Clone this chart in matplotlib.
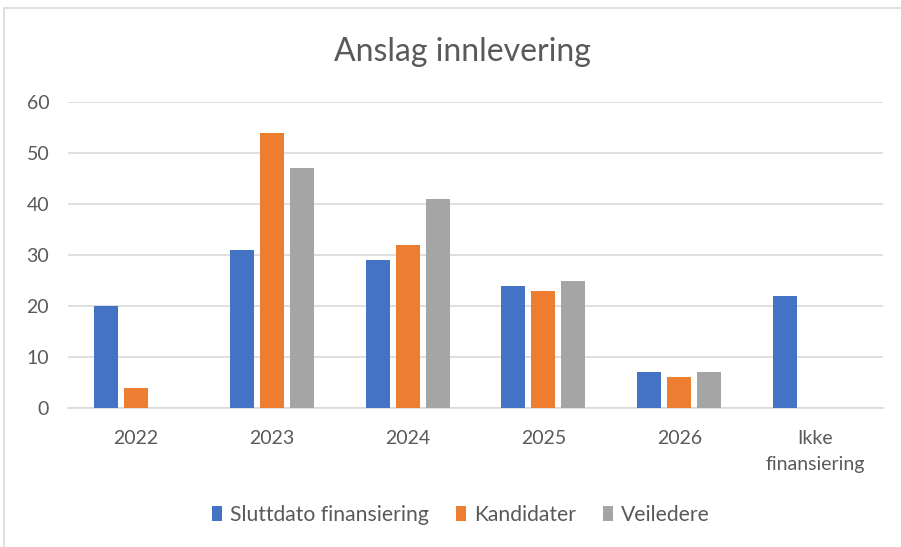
import numpy as np
import matplotlib
matplotlib.use("Agg")
import matplotlib.pyplot as plt
from matplotlib.patches import Rectangle

plt.rcParams['font.family'] = ['Lato', 'DejaVu Sans']

categories = ["2022", "2023", "2024", "2025", "2026", "Ikke\nfinansiering"]
series_names = ["Sluttdato finansiering", "Kandidater", "Veiledere"]
sluttdato = [20, 31, 29, 24, 7, 22]
kandidater = [4, 54, 32, 23, 6, np.nan]
veiledere = [np.nan, 47, 41, 25, 7, np.nan]
colors = ["#4472C4", "#ED7D31", "#A5A5A5"]
yticks = [0, 10, 20, 30, 40, 50, 60]

W, H = 901, 547
fig = plt.figure(figsize=(W / 100, H / 100), dpi=100)
fig.patch.set_facecolor("white")

# chart border
fig.patches.append(Rectangle((4 / W, -0.05), 1.0, (H - 8) / H + 0.05,
                             transform=fig.transFigure, fill=False,
                             edgecolor="#D9D9D9", linewidth=1.2))

ax = fig.add_axes([68 / W, (H - 408) / H, 815 / W, 306 / H])
x = np.arange(len(categories))
bw = 0.177
step = 0.221
for i, (vals, c, name) in enumerate(zip([sluttdato, kandidater, veiledere], colors, series_names)):
    ax.bar(x + (i - 1) * step, vals, width=bw, color=c, label=name, zorder=3)

ax.set_xlim(-0.5, len(categories) - 0.5)
ax.set_ylim(0, 60)
ax.set_yticks(yticks)
ax.set_xticks(x)
ax.set_xticklabels(categories, linespacing=1.65)
ax.yaxis.grid(True, color="#D9D9D9", linewidth=1.2, zorder=0)
for s in ["top", "right", "left"]:
    ax.spines[s].set_visible(False)
ax.spines["bottom"].set_color("#D9D9D9")
ax.spines["bottom"].set_linewidth(1.2)
ax.tick_params(axis="both", length=0, colors="#595959", labelsize=14)
ax.tick_params(axis="x", pad=15.5)
ax.tick_params(axis="y", pad=13.5)

fig.text(462 / W, 1 - 52 / H, "Anslag innlevering", ha="center", va="center",
         fontsize=23, color="#595959")

leg = fig.legend(loc="center", bbox_to_anchor=(461 / W, 1 - 515 / H), ncol=3,
                 frameon=False, fontsize=15.2, handlelength=0.47, handleheight=0.7,
                 handletextpad=0.38, columnspacing=1.3)
for t in leg.get_texts():
    t.set_color("#595959")

fig.savefig("out.png", dpi=100, facecolor="white")
